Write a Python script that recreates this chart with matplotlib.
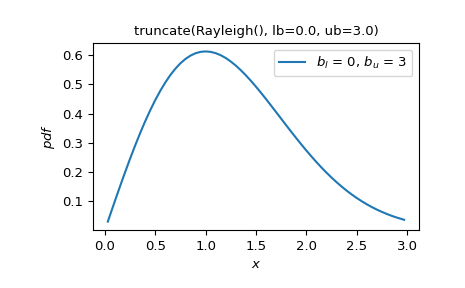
import matplotlib
matplotlib.use("Agg")
import matplotlib.pyplot as plt

# values
x_vals = [0.03, 0.05, 0.1, 0.15, 0.2, 0.25, 0.3, 0.35, 0.4, 0.45, 0.5,
          0.55, 0.6, 0.65, 0.7, 0.75, 0.8, 0.85, 0.9, 0.95, 1.0,
          1.05, 1.1, 1.15, 1.2, 1.25, 1.3, 1.35, 1.4, 1.45, 1.5,
          1.55, 1.6, 1.65, 1.7, 1.75, 1.8, 1.85, 1.9, 1.95, 2.0,
          2.05, 2.1, 2.15, 2.2, 2.25, 2.3, 2.35, 2.4, 2.45, 2.5,
          2.55, 2.6, 2.65, 2.7, 2.75, 2.8, 2.85, 2.9, 2.97]
pdf_vals = [0.0303, 0.0505, 0.1006, 0.1500, 0.1982, 0.2450, 0.2900, 0.3329,
            0.3734, 0.4112, 0.4462, 0.4781, 0.5068, 0.5321, 0.5540, 0.5725,
            0.5874, 0.5989, 0.6070, 0.6118, 0.6133, 0.6118, 0.6074, 0.6003,
            0.5907, 0.5787, 0.5647, 0.5488, 0.5313, 0.5125, 0.4924, 0.4715,
            0.4499, 0.4277, 0.4053, 0.3827, 0.3602, 0.3379, 0.3160, 0.2946,
            0.2737, 0.2535, 0.2341, 0.2155, 0.1978, 0.1810, 0.1652, 0.1503,
            0.1362, 0.1232, 0.1111, 0.0999, 0.0895, 0.0800, 0.0713, 0.0634,
            0.0562, 0.0496, 0.0438, 0.0365]
series_label = r"$b_l$ = 0, $b_u$ = 3"
title = "truncate(Rayleigh(), lb=0.0, ub=3.0)"

fig = plt.figure(figsize=(4.65, 2.88), dpi=100)
ax = fig.add_subplot(111)
fig.subplots_adjust(left=0.2, right=0.901, bottom=0.201, top=0.851)

ax.plot(x_vals, pdf_vals, color="#1f77b4", label=series_label)
ax.set_title(title, fontsize=9.5)
ax.set_xlabel("$x$", fontsize=9.5)
ax.set_ylabel("$pdf$", fontsize=9.5)
ax.tick_params(labelsize=9.5)
ax.legend(fontsize=9.5)

fig.savefig("out.png", dpi=100)
